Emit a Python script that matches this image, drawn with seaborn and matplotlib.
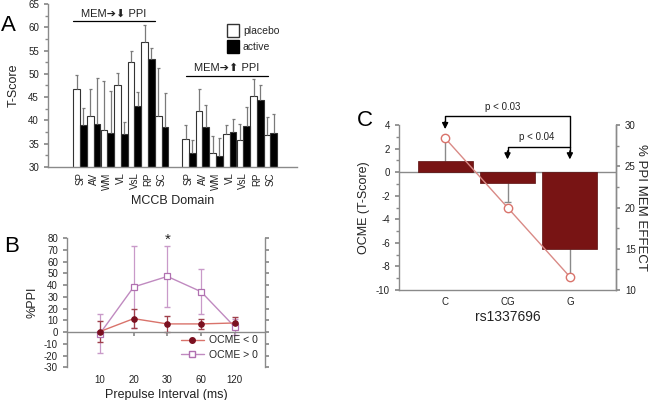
import numpy as np
import pandas as pd
import matplotlib
matplotlib.use("Agg")
import matplotlib.pyplot as plt
import seaborn as sns
from matplotlib.ticker import MultipleLocator
from matplotlib.patches import Patch
from matplotlib.lines import Line2D

# ---------------- data ----------------
domains = ["SP", "AV", "WM", "VL", "VsL", "RP", "SC"]
down_placebo = [46.8, 41.0, 38.0, 47.5, 52.5, 56.9, 41.0]
down_placebo_top = [49.8, 46.8, 48.5, 50.2, 55.0, 60.4, 51.2]
down_active = [39.0, 39.3, 37.2, 37.0, 43.1, 53.2, 38.5]
down_active_top = [42.7, 49.2, 46.3, 39.7, 46.2, 55.6, 45.8]
up_placebo = [36.0, 42.0, 33.1, 37.0, 35.8, 45.3, 36.8]
up_placebo_top = [39.0, 46.8, 36.7, 39.1, 39.2, 49.0, 40.8]
up_active = [33.1, 38.5, 32.4, 37.5, 38.8, 44.3, 37.2]
up_active_top = [35.8, 43.4, 36.3, 40.2, 42.9, 47.7, 41.4]

intervals = ["10", "20", "30", "60", "120"]
ocme_neg = [0.5, 11.5, 7.0, 7.0, 7.8]
ocme_neg_err = [9.0, 8.0, 7.0, 4.5, 5.0]
ocme_pos = [-1.2, 38.5, 47.5, 34.5, 4.5]
ocme_pos_err = [16.8, 35.0, 26.0, 19.0, 7.0]

genotypes = ["C", "CG", "G"]
ocme_t = [0.96, -0.96, -6.53]
ocme_t_err = [1.9, 1.56, 2.4]
ppi_effect = [28.4, 20.0, 11.6]

# ---------------- style ----------------
sns.set_theme(style="ticks")
plt.rcParams["font.family"] = ["Liberation Sans", "DejaVu Sans"]
GRAY = "#8a8a8a"
TXT = "#222222"
plt.rcParams.update({
    "axes.unicode_minus": False,
    "axes.edgecolor": GRAY, "axes.linewidth": 1.0,
    "xtick.color": GRAY, "ytick.color": GRAY,
    "xtick.labelcolor": TXT, "ytick.labelcolor": TXT,
    "xtick.labelsize": 7, "ytick.labelsize": 7,
    "axes.labelsize": 9, "axes.labelcolor": TXT,
    "xtick.major.size": 3, "ytick.major.size": 3,
    "xtick.minor.size": 2, "ytick.minor.size": 2,
})

W, H = 650, 400
fig = plt.figure(figsize=(6.5, 4), dpi=100)


def box(l, t, r, b):
    return [l / W, 1 - b / H, (r - l) / W, (b - t) / H]


# ---------------- panel A ----------------
axA = fig.add_axes(box(48, 4, 297, 167))
pos = list(range(7)) + list(range(8, 15))
dfA = pd.DataFrame({
    "pos": pos * 2,
    "cond": ["placebo"] * 14 + ["active"] * 14,
    "value": down_placebo + up_placebo + down_active + up_active,
})
bw = 0.98
sns.barplot(data=dfA, x="pos", y="value", hue="cond", hue_order=["placebo", "active"],
            native_scale=True, width=bw, palette={"placebo": "white", "active": "black"},
            edgecolor="#333333", linewidth=0.8, errorbar=None, legend=False,
            saturation=1, ax=axA)
p_arr = np.array(pos, dtype=float)
for offs, vals, tops in [(-bw / 4, down_placebo + up_placebo, down_placebo_top + up_placebo_top),
                         (bw / 4, down_active + up_active, down_active_top + up_active_top)]:
    xs = p_arr + offs
    axA.vlines(xs, vals, tops, color="#7a7a7a", lw=0.9, zorder=1)
    axA.hlines(tops, xs - 0.11, xs + 0.11, color="#7a7a7a", lw=0.9, zorder=1)
axA.set_ylim(30, 65)
axA.set_xlim(-2.36, 15.95)
axA.yaxis.set_major_locator(MultipleLocator(5))
axA.yaxis.set_minor_locator(MultipleLocator(2.5))
axA.set_xticks(pos)
axA.set_xticklabels(domains + domains, rotation=90)
axA.tick_params(axis="x", length=0, pad=4)
sns.despine(ax=axA)
axA.set_ylabel("T-Score", labelpad=6)
axA.set_xlabel("MCCB Domain", labelpad=4)
axA.legend(handles=[Patch(facecolor="white", edgecolor="#333333"),
                    Patch(facecolor="black", edgecolor="black")],
           labels=["placebo", "active"], loc="upper left",
           bbox_to_anchor=(222 / W, 1 - 19 / H), bbox_transform=fig.transFigure,
           frameon=False, fontsize=7.5, handlelength=1.1, handleheight=1.5,
           handletextpad=0.4, labelspacing=0.3, borderpad=0)
axA.plot([-0.5, 5.5], [61.35, 61.35], color="black", lw=0.9, clip_on=False)
axA.text(2.5, 62.9, "MEM\u2794\u2b07 PPI", ha="center", va="center", fontsize=8,
         color=TXT, clip_on=False)
axA.plot([7.79, 13.8], [49.55, 49.55], color="black", lw=0.9, clip_on=False)
axA.text(10.8, 51.2, "MEM\u2794\u2b06 PPI", ha="center", va="center", fontsize=8,
         color=TXT, clip_on=False)

# ---------------- panel B ----------------
axB = fig.add_axes(box(67, 238.3, 265, 367.3))
xb = np.arange(len(intervals))
NEG_M = "#7b1020"
NEG_L = "#d9736b"
POS_C = "#c08ac0"
axB.errorbar(xb, ocme_pos, yerr=ocme_pos_err, fmt="none", ecolor="#c99ac9",
             elinewidth=0.9, capsize=2, zorder=2)
axB.errorbar(xb, ocme_neg, yerr=ocme_neg_err, fmt="none", ecolor="#a0404c",
             elinewidth=0.9, capsize=2, zorder=2)
sns.lineplot(x=xb, y=ocme_pos, ax=axB, color=POS_C, lw=1.0, marker="s", ms=5,
             mfc="white", mec="#b070b0", mew=0.9, zorder=3)
sns.lineplot(x=xb, y=ocme_neg, ax=axB, color=NEG_L, lw=1.0, marker="o", ms=4,
             mfc=NEG_M, mec=NEG_M, zorder=4)
axB.set_ylim(-30, 80)
axB.set_xlim(-0.98, 4.9)
axB.yaxis.set_major_locator(MultipleLocator(10))
axB.set_xticks(xb)
axB.set_xticklabels(intervals)
axB.spines["top"].set_visible(False)
axB.spines["bottom"].set_position(("data", 0))
axB.tick_params(axis="x", length=3, pad=28)
axB.tick_params(axis="y", right=True, labelright=False)
axB.set_ylabel("%PPI", labelpad=4)
axB.set_xlabel("Prepulse Interval (ms)", labelpad=3)
axB.text(2, 79, "*", ha="center", va="center", fontsize=11, color=TXT, clip_on=False)
axB.legend(handles=[Line2D([], [], color=NEG_L, marker="o", ms=4, mfc=NEG_M, mec=NEG_M, lw=1),
                    Line2D([], [], color=POS_C, marker="s", ms=5, mfc="white", mec="#b070b0", lw=1)],
           labels=["OCME < 0", "OCME > 0"], loc="lower right", bbox_to_anchor=(1.0, 0.0),
           frameon=False, fontsize=7.5, handlelength=2.2, handletextpad=0.5,
           labelspacing=0.45, borderaxespad=0.3)

# ---------------- panel C ----------------
axC = fig.add_axes(box(399, 125, 616, 290))
BAR_C = "#781414"
sns.barplot(x=genotypes, y=ocme_t, color=BAR_C, saturation=1, width=0.88,
            edgecolor="#5a0e0e", linewidth=0.5, errorbar=None, ax=axC, zorder=2)
xc = np.arange(len(genotypes))
ends = [v + (e if v > 0 else -e) for v, e in zip(ocme_t, ocme_t_err)]
axC.vlines(xc, ocme_t, ends, color="#8a8a8a", lw=1.0, zorder=1)
axC.hlines(ends, xc - 0.05, xc + 0.05, color="#8a8a8a", lw=1.0, zorder=1)
axC.axhline(0, color=GRAY, lw=1.0, zorder=1)
axC.set_ylim(-10, 4)
axC.set_xlim(-0.74, 2.74)
axC.yaxis.set_major_locator(MultipleLocator(2))
axC.yaxis.set_minor_locator(MultipleLocator(1))
axC.tick_params(axis="x", length=0, pad=5)
axC.spines["top"].set_visible(False)
axC.set_ylabel("OCME (T-Score)", labelpad=4)
axC.set_xlabel("rs1337696", labelpad=2, fontsize=10)

ax2 = axC.twinx()
sns.lineplot(x=xc, y=ppi_effect, ax=ax2, color="#d98a86", lw=1.0, marker="o", ms=6,
             mfc="white", mec="#d9736b", mew=1.0, zorder=5)
ax2.set_ylim(10, 30)
ax2.set_xlim(-0.74, 2.74)
ax2.yaxis.set_major_locator(MultipleLocator(5))
ax2.yaxis.set_minor_locator(MultipleLocator(2.5))
for s in ["top", "left", "bottom"]:
    ax2.spines[s].set_visible(False)
ax2.set_ylabel("")
fig.text(641 / W, 1 - 207 / H, "% PPI MEM EFFECT", rotation=270, ha="center",
         va="center", fontsize=9.5, color=TXT)

# brackets
arrow_kw = dict(arrowstyle="-|>", color="black", lw=1.0, mutation_scale=9,
                shrinkA=0, shrinkB=0)
axC.plot([0, 0, 2, 2], [4.2, 4.75, 4.75, 1.6], color="black", lw=1.0, clip_on=False)
axC.annotate("", xy=(0, 3.65), xytext=(0, 4.3), arrowprops=arrow_kw, annotation_clip=False)
axC.annotate("", xy=(2, 1.08), xytext=(2, 1.8), arrowprops=arrow_kw, annotation_clip=False)
axC.plot([1, 1, 2], [1.6, 2.15, 2.15], color="black", lw=1.0, clip_on=False)
axC.annotate("", xy=(1, 1.08), xytext=(1, 1.8), arrowprops=arrow_kw, annotation_clip=False)
axC.text(0.93, 5.55, "p < 0.03", ha="center", va="center", fontsize=7, color=TXT, clip_on=False)
axC.text(1.47, 3.0, "p < 0.04", ha="center", va="center", fontsize=7, color=TXT, clip_on=False)

# panel letters
for letter, (x, y) in {"A": (8.5, 25.5), "B": (12, 246), "C": (365, 121)}.items():
    fig.text(x / W, 1 - y / H, letter, ha="center", va="center", fontsize=16, color="black")

fig.savefig("out.png", dpi=100)
